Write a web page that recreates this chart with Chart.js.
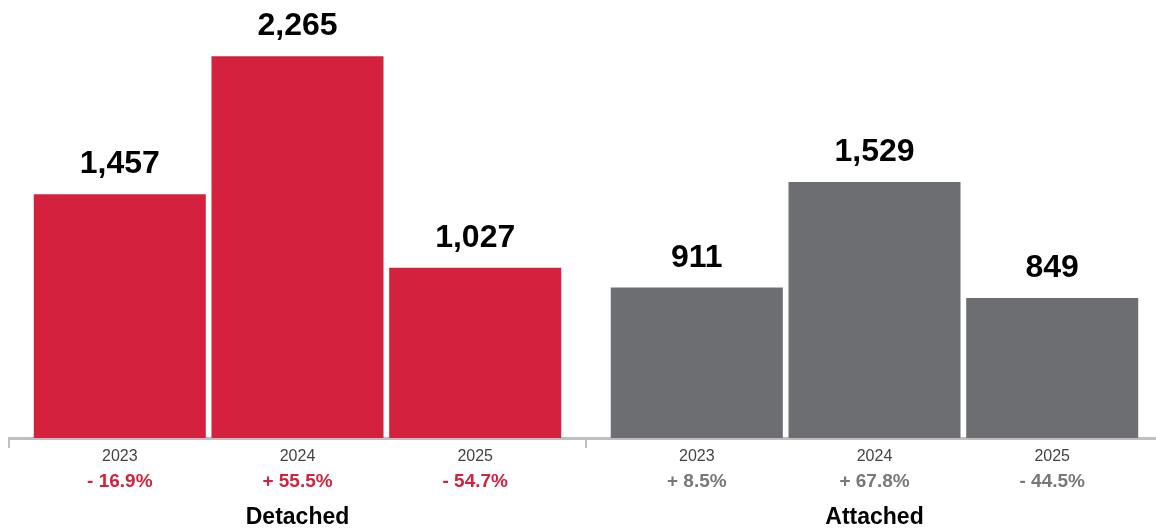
<!DOCTYPE html>
<html>
<head>
<meta charset="utf-8">
<title>Detached vs Attached sales</title>
<script src="https://cdn.jsdelivr.net/npm/chart.js@4.4.1/dist/chart.umd.min.js"></script>
<style>
  html, body { margin: 0; padding: 0; background: #fff; overflow: hidden; }
  #salesChart { display: block; }
</style>
</head>
<body>
<canvas id="salesChart" width="1172" height="531"></canvas>
<script>
// Groups and years shown on the x axis
const groups = ['Detached', 'Attached'];
const years = ['2023', '2024', '2025'];

// Sales per year, one array per group
const detachedValues = [1457, 2265, 1027];
const attachedValues = [911, 1529, 849];

// Year-over-year change shown under each bar
const detachedChange = ['- 16.9%', '+ 55.5%', '- 54.7%'];
const attachedChange = ['+ 8.5%', '+ 67.8%', '- 44.5%'];

const RED = '#d4213d';
const GREY = '#6d6e72';
const FONT = "'Liberation Sans', Arial, sans-serif";

// one dataset per year, each holding [detached, attached]
const datasets = years.map((yr, i) => ({
    label: yr,
    data: [detachedValues[i], attachedValues[i]],
    backgroundColor: [RED, GREY],
    barPercentage: 0.968,
    categoryPercentage: 0.924
}));

const changes = [detachedChange, attachedChange];
const changeColors = [RED, '#77787b'];

// value above each bar, year + change below the axis
const barLabels = {
    id: 'barLabels',
    afterDatasetsDraw(chart) {
        const ctx = chart.ctx;
        const axisTop = chart.scales.x.top;
        ctx.save();
        ctx.textAlign = 'center';
        ctx.textBaseline = 'alphabetic';
        chart.data.datasets.forEach((ds, di) => {
            const meta = chart.getDatasetMeta(di);
            meta.data.forEach((bar, gi) => {
                ctx.fillStyle = '#000';
                ctx.font = 'bold 32px ' + FONT;
                ctx.fillText(ds.data[gi].toLocaleString('en-US'), bar.x, bar.y - 21);

                ctx.fillStyle = '#444';
                ctx.font = '16px ' + FONT;
                ctx.fillText(years[di], bar.x, axisTop + 23);

                ctx.fillStyle = changeColors[gi];
                ctx.font = 'bold 19px ' + FONT;
                ctx.fillText(changes[gi][di], bar.x, axisTop + 49);
            });
        });
        ctx.restore();
    }
};

new Chart(document.getElementById('salesChart'), {
    type: 'bar',
    data: { labels: groups, datasets: datasets },
    options: {
        responsive: false,
        devicePixelRatio: 1,
        animation: false,
        layout: { padding: { left: 9, right: 9, top: 0, bottom: 0 } },
        plugins: {
            legend: { display: false },
            tooltip: { enabled: false }
        },
        scales: {
            x: {
                grid: {
                    offset: true,
                    drawOnChartArea: false,
                    color: '#bfbfbf',
                    lineWidth: 2,
                    tickLength: 10
                },
                border: { color: '#bfbfbf', width: 3 },
                ticks: {
                    color: '#000',
                    font: { family: FONT, size: 23, weight: 'bold' },
                    padding: 56
                },
                afterFit(scale) { scale.height = 93; }
            },
            y: {
                display: false,
                min: 30,
                max: 2594
            }
        }
    },
    plugins: [barLabels]
});
</script>
</body>
</html>
